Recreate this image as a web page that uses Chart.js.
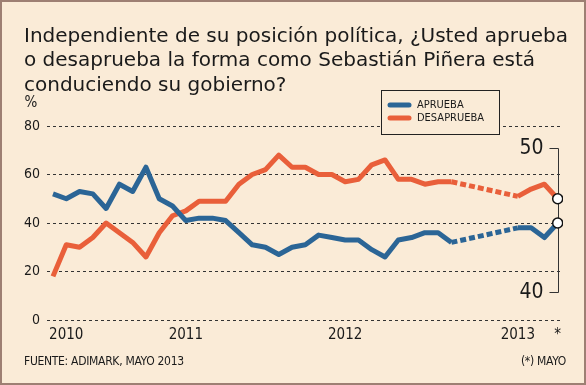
<!DOCTYPE html>
<html>
<head>
<meta charset="utf-8">
<script src="https://cdn.jsdelivr.net/npm/chart.js@4"></script>
<style>
  body { margin:0; background:#fff; }
  #card { position:relative; width:586px; height:385px; background:#faebd7; overflow:hidden; }
  #frame { position:absolute; left:0; top:0; width:586px; height:385px; box-sizing:border-box; border:2px solid #9d7f73; pointer-events:none; }
  #title { position:absolute; left:24px; top:23px; font:20px/24.4px 'DejaVu Sans', Verdana, sans-serif; color:#1a1a1a; white-space:nowrap; }
  .foot { position:absolute; top:354px; font:12px/15px 'DejaVu Sans Condensed', sans-serif; letter-spacing:-0.3px; color:#1a1a1a; white-space:nowrap; }
  canvas { position:absolute; left:0; top:0; }
</style>
</head>
<body>
<div id="card">
  <canvas id="chart" width="586" height="385"></canvas>
  <div id="title">Independiente de su posición política, ¿Usted aprueba<br>o desaprueba la forma como Sebastián Piñera está<br>conduciendo su gobierno?</div>
  <div class="foot" style="left:24px">FUENTE: ADIMARK, MAYO 2013</div>
  <div class="foot" style="right:20px">(*) MAYO</div>
  <div id="frame"></div>
</div>
<script>
// monthly Adimark polls, Mar 2010 .. May 2013 (no data Oct 2012 - Jan 2013)
const approve    = [52,50,53,52,46,56,53,63,50,47,41,42,42,41,36,31,30,27,30,31,35,34,33,33,29,26,33,34,36,36,32,null,null,null,null,38,38,34,40];
const disapprove = [18,31,30,34,40,36,32,26,36,43,45,49,49,49,56,60,62,68,63,63,60,60,57,58,64,66,58,58,56,57,57,null,null,null,null,51,54,56,50];
const seriesNames = ['APRUEBA','DESAPRUEBA'];

const xTickPos  = [1, 10, 22, 35, 38];
const xTickText = ['2010','2011','2012','2013','*'];

const BLUE = '#2b6596';
const ORANGE = '#e95f3a';
const BG = '#faebd7';
const INK = '#1a1a1a';
const NARROW = "'DejaVu Sans Condensed', sans-serif";

const last = approve.length - 1;
const bracketTop = 71, bracketBottom = 11.5;

// dashed where the line bridges months without a poll
const dashGap = ctx => (ctx.p0.skip || ctx.p1.skip) ? [6,3] : undefined;

function lineSet(label, values, color) {
  return {
    label,
    data: values.map((v,i) => ({x:i, y:v})),
    borderColor: color,
    backgroundColor: color,
    borderWidth: 5,
    borderCapStyle: 'butt',
    borderJoinStyle: 'round',
    tension: 0,
    spanGaps: true,
    segment: { borderDash: dashGap },
    pointRadius: ctx => ctx.dataIndex === last ? 5 : 0,
    pointBackgroundColor: '#fff',
    pointBorderColor: '#111',
    pointBorderWidth: 1.5,
  };
}

const bracket = {
  id:'bracket',
  beforeDatasetsDraw(chart) {
    const {ctx, scales:{x, y}} = chart;
    const bx = Math.round(x.getPixelForValue(last)) + 0.5;
    const top = Math.round(y.getPixelForValue(bracketTop)) + 0.5;
    const bot = Math.round(y.getPixelForValue(bracketBottom)) + 0.5;
    ctx.save();
    ctx.strokeStyle = '#333';
    ctx.lineWidth = 1;
    ctx.beginPath();
    ctx.moveTo(bx-9, top); ctx.lineTo(bx, top); ctx.lineTo(bx, bot); ctx.lineTo(bx-9, bot);
    ctx.stroke();
    ctx.fillStyle = INK;
    ctx.font = '21px ' + NARROW;
    ctx.textAlign = 'right';
    ctx.textBaseline = 'middle';
    ctx.fillText(String(disapprove[last]), bx-15, top);
    ctx.fillText(String(approve[last]), bx-15, bot);
    ctx.restore();
  }
};

const legendBox = {
  id:'legendBox',
  afterDatasetsDraw(chart) {
    const {ctx} = chart;
    ctx.save();
    ctx.fillStyle = BG;
    ctx.fillRect(381, 90, 118, 44);
    ctx.strokeStyle = '#222';
    ctx.lineWidth = 1;
    ctx.strokeRect(381.5, 90.5, 118, 44);
    ctx.font = '11px ' + NARROW;
    ctx.textBaseline = 'middle';
    chart.data.datasets.forEach((ds, i) => {
      const yy = 105 + i*13;
      ctx.strokeStyle = ds.borderColor;
      ctx.lineWidth = 5;
      ctx.lineCap = 'round';
      ctx.beginPath(); ctx.moveTo(390, yy); ctx.lineTo(409, yy); ctx.stroke();
      ctx.fillStyle = INK;
      ctx.fillText(ds.label, 417, yy);
    });
    // unit label above the y axis
    ctx.font = '15px ' + NARROW;
    ctx.textAlign = 'center';
    ctx.fillText('%', 31, 103);
    ctx.restore();
  }
};

new Chart(document.getElementById('chart'), {
  type:'line',
  data:{ datasets:[ lineSet(seriesNames[0], approve, BLUE), lineSet(seriesNames[1], disapprove, ORANGE) ] },
  options:{
    responsive:false,
    animation:false,
    layout:{ padding:{ top:126, right:23, left:0, bottom:0 } },
    plugins:{ legend:{display:false}, tooltip:{enabled:false} },
    scales:{
      x:{
        type:'linear', min:-0.45, max:38.4,
        grid:{display:false, drawTicks:false},
        border:{display:false},
        afterBuildTicks: s => { s.ticks = xTickPos.map(v => ({value:v})); },
        afterFit: s => { s.height = 65; },
        ticks:{ autoSkip:false, maxRotation:0, padding:6, color:INK, font:{family:NARROW, size:15},
          callback: v => { const k = xTickPos.indexOf(v); return k < 0 ? '' : xTickText[k]; } }
      },
      y:{
        min:0, max:80,
        afterFit: s => { s.width = 47; },
        grid:{ color:'#333', lineWidth:1, drawTicks:false },
        border:{ display:false, dash:[3,3] },
        ticks:{ stepSize:20, padding:7, color:INK, font:{family:NARROW, size:14} }
      }
    }
  },
  plugins:[bracket, legendBox]
});
</script>
</body>
</html>
